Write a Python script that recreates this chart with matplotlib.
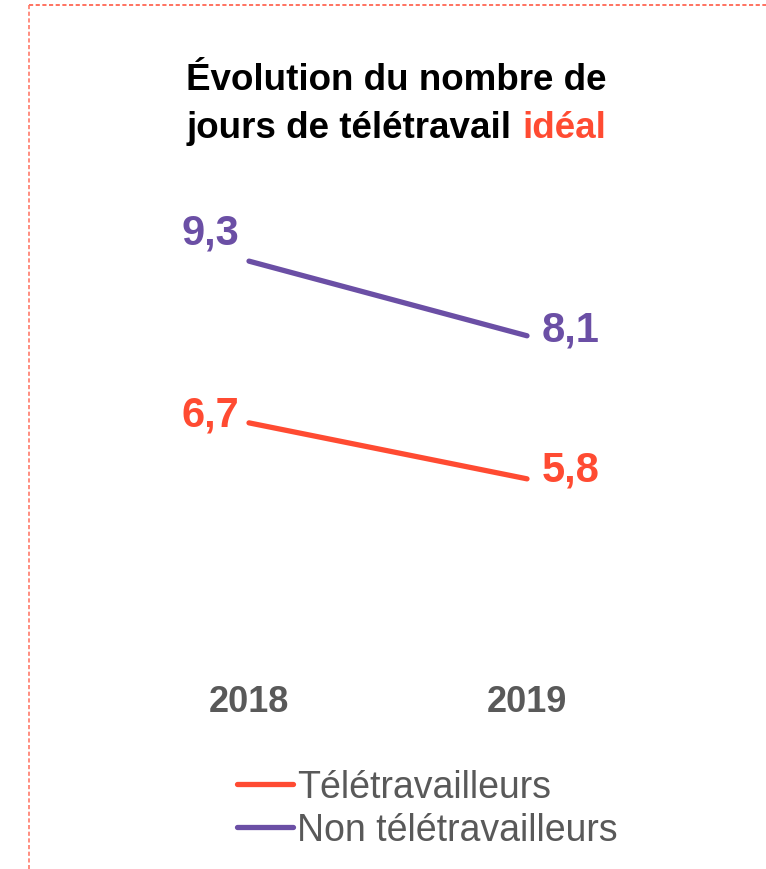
import matplotlib.pyplot as plt
from matplotlib.lines import Line2D

plt.rcParams['font.family'] = ['Liberation Sans', 'DejaVu Sans']

# données
years = ['2018', '2019']
teletravailleurs = [6.7, 5.8]
non_teletravailleurs = [9.3, 8.1]
labels_tele = ['6,7', '5,8']
labels_non = ['9,3', '8,1']

RED = '#FF4B32'
PURPLE = '#6B4FA5'
GREY = '#595959'

W, H = 766, 870
fig = plt.figure(figsize=(W / 100, H / 100), dpi=100)

# axes: 2018 -> x=249px, 2019 -> x=527px ; y 10 -> 218.6px, 5 -> 529.6px
left, right = 249, 527
top, bottom = 218.6, 529.6
ax = fig.add_axes([left / W, 1 - bottom / H, (right - left) / W, (bottom - top) / H])
ax.set_xlim(0, 1)
ax.set_ylim(5, 10)
for s in ax.spines.values():
    s.set_visible(False)
ax.set_yticks([])
ax.set_xticks([0, 1])
ax.set_xticklabels(years, fontsize=26, fontweight='bold', color=GREY)
ax.tick_params(axis='x', length=0, pad=112)
ax.patch.set_alpha(0)

x = [0, 1]
ax.plot(x, non_teletravailleurs, color=PURPLE, lw=3.8, solid_capstyle='round',
        label='Non télétravailleurs', clip_on=False)
ax.plot(x, teletravailleurs, color=RED, lw=3.8, solid_capstyle='round',
        label='Télétravailleurs', clip_on=False)

offsets = [(-39, 29), (44, 6)]
for i in range(2):
    ax.annotate(labels_non[i], (x[i], non_teletravailleurs[i]), xytext=offsets[i],
                textcoords='offset pixels', ha='center', va='center',
                fontsize=30, fontweight='bold', color=PURPLE)
offsets = [(-39, 8), (44, 9)]
for i in range(2):
    ax.annotate(labels_tele[i], (x[i], teletravailleurs[i]), xytext=offsets[i],
                textcoords='offset pixels', ha='center', va='center',
                fontsize=30, fontweight='bold', color=RED)

# titre (deux couleurs sur la 2e ligne)
cx = 396.5 / W
fig.text(cx, 1 - 80 / H, 'Évolution du nombre de', ha='center', va='center',
         fontsize=26.5, fontweight='bold', color='black')
fig.canvas.draw()
r = fig.canvas.get_renderer()
t1 = fig.text(0, 0, 'jours de télétravail ', fontsize=26.5, fontweight='bold')
t2 = fig.text(0, 0, 'idéal', fontsize=26.5, fontweight='bold')
w1 = t1.get_window_extent(r).width
w2 = t2.get_window_extent(r).width
x0 = 396.5 - (w1 + w2) / 2
y2 = 1 - 128 / H
t1.set_position((x0 / W, y2)); t1.set_va('center'); t1.set_color('black')
t2.set_position(((x0 + w1) / W, y2)); t2.set_va('center'); t2.set_color(RED)

# légende
handles = [Line2D([], [], color=RED, lw=3.8, solid_capstyle='round'),
           Line2D([], [], color=PURPLE, lw=3.8, solid_capstyle='round')]
fig.legend(handles, ['Télétravailleurs', 'Non télétravailleurs'],
           loc='upper left', bbox_to_anchor=(237 / W, 1 - 770 / H),
           frameon=False, fontsize=27, labelcolor=GREY,
           handlelength=1.5, handletextpad=0.1, labelspacing=0.2,
           borderpad=0, borderaxespad=0)

# cadre pointillé (haut et gauche)
fig.add_artist(Line2D([29 / W, 1], [1 - 6 / H, 1 - 6 / H], color='#FF5A46',
                      lw=1.2, ls=(0, (2.5, 1.5)), transform=fig.transFigure))
fig.add_artist(Line2D([29 / W, 29 / W], [1 - 6 / H, 0], color='#FF7A6A',
                      lw=1.2, ls=(0, (2.5, 1.5)), transform=fig.transFigure))

fig.savefig('out.png', dpi=100)
